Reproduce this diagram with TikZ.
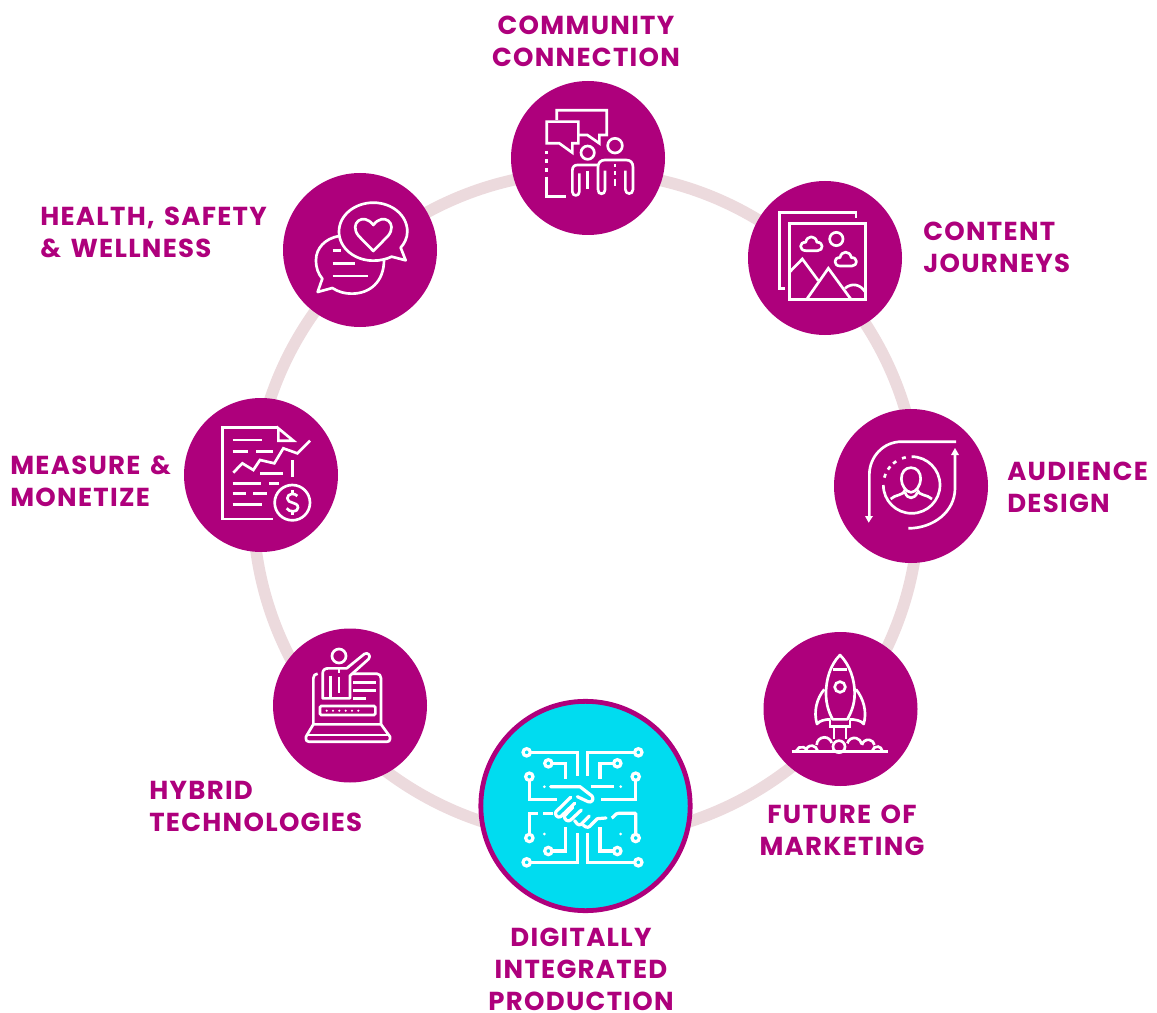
\documentclass[tikz,border=0pt]{standalone}
\usepackage{fontspec}
\setmainfont{Poppins}[LetterSpace=5,WordSpace=1.4]
\definecolor{mag}{HTML}{AE007C}
\definecolor{cyn}{HTML}{00DCF0}
\definecolor{ringc}{HTML}{ECDADD}
\tikzset{
  disc/.style={circle,fill=mag,minimum size=115.5pt,inner sep=0pt},
  hubdisc/.style={circle,fill=cyn,draw=mag,line width=3.6pt,minimum size=157pt,inner sep=0pt},
  lab/.style={text=mag,font=\fontsize{19.5}{24}\selectfont\bfseries,inner sep=0pt},
  labl/.style={lab,align=left,anchor=west},
  labc/.style={lab,align=center,anchor=center},
  ic/.style={draw=white,line width=2pt,line join=miter,fill=none},
  icb/.style={draw=white,line width=2.4pt,line join=miter,fill=none},
  iconframe/.style={x=.25pt,y=-.25pt},
  tipw/.style={fill=white,draw=none},
  pics/cloudicon/.style={code={
    \draw[ic,line join=round] (-18,22) .. controls (-38,22) and (-38,-5) .. (-18,-3)
      .. controls (-14,-25) and (12,-25) .. (16,-3)
      .. controls (36,-5) and (36,22) .. (18,22) -- cycle;}},
}
\begin{document}
\begin{tikzpicture}[x=.75pt,y=-.75pt]
\useasboundingbox (0,0) rectangle (1157,1013);
% ring
\draw[ringc,line width=8.8pt] (586,505) circle [radius=333];
% discs
\node[disc] (community) at (588,158) {};
\node[disc] (content) at (825,258) {};
\node[disc] (audience) at (911,486) {};
\node[disc] (future) at (840.5,709) {};
\node[hubdisc] (digital) at (585.5,806) {};
\node[disc] (hybrid) at (350,705.5) {};
\node[disc] (measure) at (261,475) {};
\node[disc] (health) at (360,250) {};
% labels
\node[labc] (lcommunity) at (586,41) {COMMUNITY\\CONNECTION};
\node[labl] (lcontent) at (923,247.5) {CONTENT\\JOURNEYS};
\node[labl] (laudience) at (1007,487.5) {AUDIENCE\\DESIGN};
\node[labc] (lfuture) at (842,830) {FUTURE OF\\MARKETING};
\node[labc] (ldigital) at (581,969.5) {DIGITALLY\\INTEGRATED\\PRODUCTION};
\node[labl] (lhybrid) at (149,806) {HYBRID\\TECHNOLOGIES};
\node[labl] (lmeasure) at (10,481) {MEASURE \&\\MONETIZE};
\node[labl] (lhealth) at (40,232) {HEALTH, SAFETY\\\& WELLNESS};
% icon: community
\begin{scope}[shift={(510,80)},iconframe]
\draw[ic] (140,120)--(140,91)--(290,91)--(290,165)--(268,165)--(268,190)--(232,165)--(207,165);
\draw[ic] (110,125)--(205,125)--(205,190)--(187,190)--(187,218)--(148,190)--(110,190)--cycle;
\draw[ic] (110,213)--(110,222) (110,238)--(110,250) (110,264)--(110,276);
\draw[ic] (110,290)--(110,350)--(168,350);
\draw[ic] (233,218) circle [radius=20];
\draw[ic] (315,197) circle [radius=22];
\draw[ic,line join=round] (262,255)--(202,255) .. controls (192,255) and (187,262) .. (187,272)
  --(187,335) .. controls (187,350) and (208,350) .. (208,335)--(208,280);
\draw[ic] (233,272)--(233,328);
\draw[ic,line join=round] (264,330)--(264,262) .. controls (264,248) and (272,240) .. (285,240)--(348,240)
  .. controls (362,240) and (369,248) .. (369,262)--(369,328) .. controls (369,345) and (346,345) .. (346,328)--(346,272);
\draw[ic] (264,330) .. controls (264,345) and (285,345) .. (285,330)--(285,272);
\draw[ic] (315,252)--(315,262) (315,274)--(315,284) (315,296)--(315,318);
\end{scope}
% icon: content
\begin{scope}[shift={(745,180)},iconframe]
\draw[ic] (120,326)--(103,326)--(103,97)--(333,97)--(333,115);
\draw[ic] (133,130) rectangle (362,358);
\draw[ic] (274,177) circle [radius=20];
\pic at (200,190) {cloudicon};
\pic at (303,236) {cloudicon};
\draw[ic] (133,277)--(172,237)--(220,302);
\draw[ic] (185,358)--(250,265)--(318,358);
\draw[ic] (300,325) .. controls (320,308) and (345,312) .. (360,335);
\end{scope}
% icon: audience
\begin{scope}[shift={(830,405)},iconframe]
\draw[ic] (378,110)--(215,110) .. controls (160,110) and (118,155) .. (118,210)--(118,335);
\fill[tipw] (105,333)--(129,333)--(116,353)--cycle;
\draw[ic] (235,370) .. controls (310,370) and (375,320) .. (375,250)--(375,150);
\fill[tipw] (363,150)--(387,150)--(375,129)--cycle;
\draw[ic] (245,155) arc[start angle=-90,end angle=180,radius=85];
\foreach \a in {-106,-127,-143,-161}
  \draw[ic] ({245+85*cos(\a-4)},{240+85*sin(\a-4)}) arc[start angle=\a-4,end angle=\a+4,radius=85];
\draw[ic,line join=round] (243,188) .. controls (225,188) and (214,202) .. (214,222)
  .. controls (214,240) and (228,262) .. (243,262)
  .. controls (258,262) and (272,240) .. (272,222)
  .. controls (272,202) and (261,188) .. (243,188) -- cycle;
\draw[ic,line join=round] (182,282) .. controls (195,268) and (222,272) .. (225,255);
\draw[ic,line join=round] (262,255) .. controls (265,272) and (292,268) .. (306,282);
\draw[ic] (225,262) .. controls (232,284) and (254,284) .. (262,262);
\end{scope}
% icon: future
\begin{scope}[shift={(760,630)},iconframe]
\draw[ic,line join=round] (240,75) .. controls (210,105) and (198,150) .. (198,190)
  .. controls (198,225) and (208,250) .. (218,268)--(262,268)
  .. controls (272,250) and (284,225) .. (284,190)
  .. controls (284,150) and (270,105) .. (240,75) -- cycle;
\draw[ic] (218,119)--(262,119);
\draw[ic] (240,171) circle [radius=16];
\draw[ic,line join=round] (193,178) .. controls (170,205) and (160,245) .. (171,282) .. controls (178,272) and (195,268) .. (212,268);
\draw[ic,line join=round] (288,178) .. controls (310,205) and (322,245) .. (311,282) .. controls (304,272) and (287,268) .. (268,268);
\draw[ic] (210,270)--(210,290)--(270,290)--(270,270);
\draw[ic] (222,290)--(222,328) (258,290)--(258,328);
\draw[ic] (95,365)--(385,365);
\draw[ic] (109,362) arc[start angle=200,end angle=340,radius=17];
\draw[ic] (137,362) arc[start angle=190,end angle=350,radius=18];
\draw[ic] (170,345) arc[start angle=180,end angle=345,radius=23];
\draw[ic] (237,350) circle [radius=18];
\draw[ic] (262,340) arc[start angle=195,end angle=350,radius=22];
\draw[ic] (306,345) arc[start angle=190,end angle=350,radius=19];
\draw[ic] (337,362) arc[start angle=190,end angle=350,radius=15];
\end{scope}
% icon: digital
\begin{scope}[shift={(500,720)},iconframe]
\foreach \x/\y in {80/97,415/97,145/130,352/130,88/170,407/170,88/354,407/354,145/393,352/393,80/427,415/427}
  \draw[icb] (\x,\y) circle [radius=11];
\foreach \x/\y in {133/200,362/200,133/342,362/342}
  \fill[white] (\x,\y) circle [radius=4.5];
\draw[icb] (91,97)--(232,97)--(232,167);
\draw[icb] (404,97)--(262,97)--(262,167);
\draw[icb] (156,130)--(197,130)--(197,178);
\draw[icb] (341,130)--(300,130)--(300,178);
\draw[icb] (88,181)--(88,238)--(172,238);
\draw[icb] (407,181)--(407,238)--(302,238);
\draw[icb] (272,200)--(343,200);
\draw[icb] (130,280)--(160,280);
\draw[icb] (114,280)--(88,280)--(88,343);
\draw[icb,line join=round] (335,294) .. controls (342,292) and (345,280) .. (355,280)--(407,280)--(407,343);
\draw[icb] (156,393)--(197,393)--(197,322);
\draw[icb] (341,393)--(300,393)--(300,322);
\draw[icb] (91,427)--(232,427)--(232,340);
\draw[icb] (404,427)--(262,427)--(262,340);
% handshake
\draw[icb,line join=round,line cap=round] (152,200)--(240,200)--(276,228) .. controls (284,238) and (274,250) .. (264,245)--(232,230);
\draw[icb,line join=round,line cap=round] (212,232)--(168,275) .. controls (162,282) and (172,296) .. (182,290)--(224,250);
\draw[icb,line join=round,line cap=round] (218,262)--(193,288) .. controls (192,298) and (204,308) .. (212,300)--(244,270);
\draw[icb,line join=round,line cap=round] (224,302)--(232,312) .. controls (240,318) and (246,312) .. (250,306)--(268,288);
\draw[icb,line join=round,line cap=round] (250,316) .. controls (262,326) and (268,322) .. (274,314)--(292,296)--(318,294);
\end{scope}
% icon: hybrid
\begin{scope}[shift={(270,625)},iconframe]
\draw[ic] (207,93) circle [radius=21];
\draw[ic,line join=round] (158,220)--(158,145) .. controls (158,135) and (165,130) .. (175,130)--(230,130)--(283,87)
  .. controls (292,80) and (305,92) .. (296,102)--(240,152)--(240,220)--cycle;
\draw[ic] (182,152)--(182,218);
\draw[ic] (207,132)--(207,143) (207,155)--(207,205);
\draw[ic,line join=round] (143,146) .. controls (135,146) and (130,152) .. (130,160)--(130,298);
\draw[ic,line join=round] (245,146)--(320,146) .. controls (328,146) and (333,152) .. (333,160)--(333,298);
\draw[ic] (250,173)--(318,173) (250,197)--(318,197) (250,221)--(288,221);
\draw[ic,rounded corners=1pt] (150,243) rectangle (316,270);
\foreach \x in {170,189,208,227,246,265}
  \fill[white] (\x,257) circle [radius=3.5];
\draw[ic,line join=round] (130,298)--(333,298)--(360,335)--(360,342) .. controls (360,348) and (356,350) .. (352,350)--(116,350)
  .. controls (110,350) and (108,346) .. (108,342)--(108,335)--cycle;
\draw[ic] (110,330)--(358,330);
\end{scope}
% icon: measure
\begin{scope}[shift={(180,395)},iconframe]
\draw[ic] (278,372)--(128,372)--(128,97)--(295,97);
\draw[ic] (295,100)--(295,137)--(340,137)--cycle;
\draw[ic] (338,195)--(338,245);
\draw[ic] (158,135)--(245,135);
\draw[ic] (158,170)--(205,170) (228,170)--(278,170);
\draw[ic] (160,233)--(187,205)--(220,225)--(240,195)--(283,205)--(310,160)--(352,175)--(390,137);
\draw[ic] (240,235)--(310,235);
\draw[ic] (158,265)--(242,265) (268,265)--(298,265);
\draw[ic] (158,296)--(197,296) (220,296)--(262,296);
\draw[ic] (158,328)--(245,328);
\draw[ic] (337,323) circle [radius=53];
\draw[ic,line join=round] (352,303) .. controls (345,293) and (322,295) .. (322,310)
  .. controls (322,328) and (354,318) .. (354,338)
  .. controls (354,352) and (328,353) .. (320,340);
\draw[ic] (337,285)--(337,296) (337,350)--(337,361);
\end{scope}
% icon: health
\begin{scope}[shift={(280,170)},iconframe]
\draw[ic,line join=round] (178,198) .. controls (135,205) and (108,235) .. (108,270)
  .. controls (108,295) and (115,312) .. (127,326)--(113,366)--(157,354)
  .. controls (175,366) and (195,371) .. (215,371)
  .. controls (270,371) and (312,335) .. (312,270);
\draw[ic,line join=round] (335,260) .. controls (318,268) and (300,272) .. (280,272)
  .. controls (225,272) and (177,235) .. (177,185)
  .. controls (177,135) and (225,98) .. (280,98)
  .. controls (335,98) and (382,135) .. (382,185)
  .. controls (382,205) and (372,222) .. (362,233)--(377,271)--cycle;
\draw[ic,line join=round] (280,243)--(236,198) .. controls (205,160) and (250,125) .. (280,165)
  .. controls (310,125) and (355,160) .. (324,198)--cycle;
\draw[ic] (158,242)--(183,242) (158,281)--(225,281) (158,318)--(263,318);
\end{scope}
\end{tikzpicture}
\end{document}
